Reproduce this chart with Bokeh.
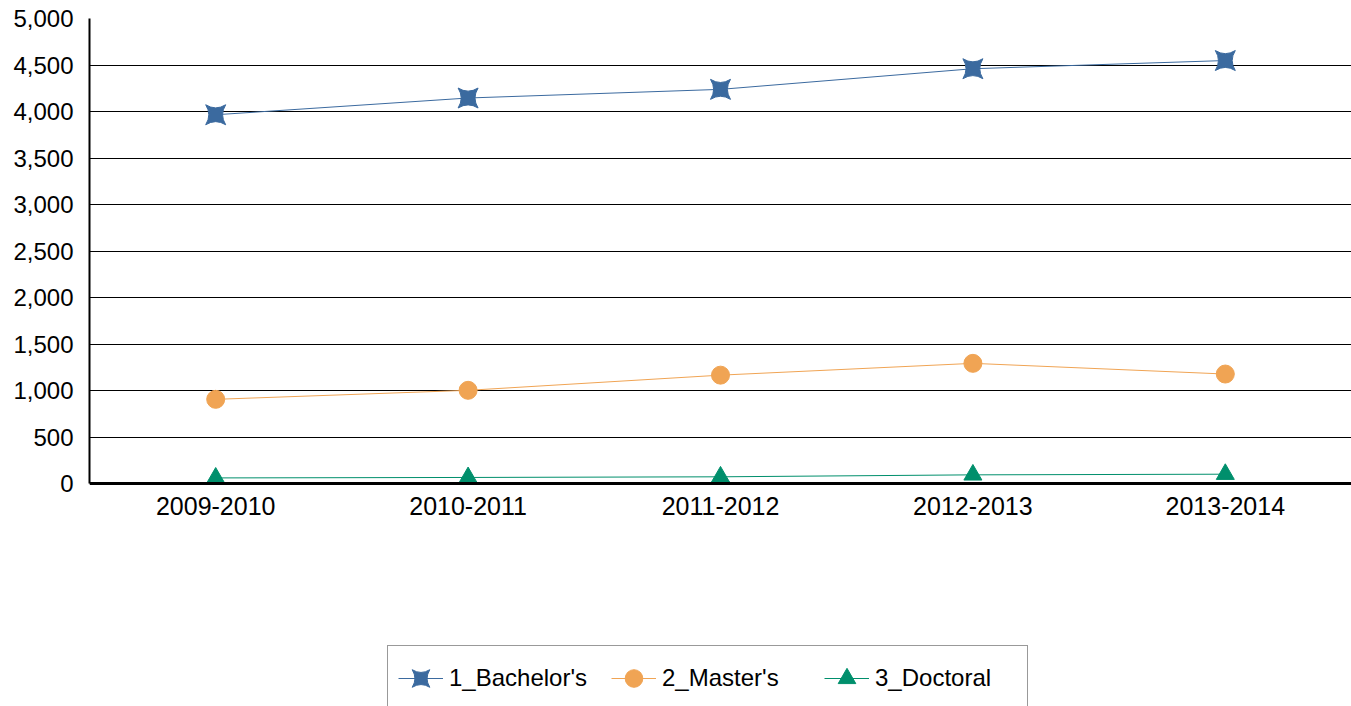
from bokeh.plotting import figure
from bokeh.models import FactorRange, Range1d, Legend, LegendItem, NumeralTickFormatter, FixedTicker
from bokeh.embed import file_html
from bokeh.resources import INLINE

years = ["2009-2010", "2010-2011", "2011-2012", "2012-2013", "2013-2014"]
bachelors = [3965, 4145, 4238, 4460, 4548]
masters = [905, 1002, 1165, 1292, 1177]
doctoral = [60, 65, 72, 93, 100]
series_names = ["1_Bachelor's", "2_Master's", "3_Doctoral"]
y_ticks = [0, 500, 1000, 1500, 2000, 2500, 3000, 3500, 4000, 4500, 5000]

colors = ["#3b6a9f", "#f0a454", "#008f6c"]
markers = ["square_pin", "circle", "triangle"]
FONT = "Liberation Sans"

# layout: value axis occupies 465 px (0..5000); the frame continues below it
# so the legend can sit inside the frame near the bottom of the page.
AXIS_PX = 465
FRAME_PX = 688
Y_MAX = 5000
y_min = -Y_MAX * (FRAME_PX - AXIS_PX) / AXIS_PX

p = figure(x_range=FactorRange(*years, range_padding=0), y_range=Range1d(y_min, Y_MAX),
           frame_width=1262, frame_height=FRAME_PX, output_backend="svg", toolbar_location=None,
           min_border_left=89, min_border_right=0, min_border_top=18, min_border_bottom=0)
p.outline_line_color = None
p.background_fill_color = "white"
p.border_fill_color = "white"

p.xgrid.grid_line_color = None
p.ygrid.grid_line_color = "black"
p.ygrid.grid_line_width = 1
p.ygrid.ticker = FixedTicker(ticks=y_ticks)

p.yaxis.ticker = FixedTicker(ticks=y_ticks)
p.yaxis.formatter = NumeralTickFormatter(format="0,0")
p.yaxis.bounds = (0, Y_MAX)
p.xaxis.fixed_location = 0
for ax in (p.xaxis[0], p.yaxis[0]):
    ax.major_tick_line_color = None
    ax.minor_tick_line_color = None
    ax.major_tick_out = 0
    ax.major_tick_in = 0
    ax.major_label_text_font = FONT
    ax.major_label_text_color = "black"
    ax.axis_line_color = "black"
p.yaxis.major_label_text_font_size = "24px"
p.xaxis.major_label_text_font_size = "25px"
p.yaxis.axis_line_width = 2
p.xaxis.axis_line_width = 3
p.yaxis.major_label_standoff = 16
p.xaxis.major_label_standoff = 13

items = []
for name, vals, c, m in zip(series_names, [bachelors, masters, doctoral], colors, markers):
    r1 = p.line(years, vals, line_color=c, line_width=1)
    sz = 20 if m == "square_pin" else 18
    r2 = p.scatter(years, vals, marker=m, size=sz, fill_color=c, line_color=c, line_width=1)
    items.append(LegendItem(label=name, renderers=[r1, r2]))

legend = Legend(items=items, orientation="horizontal", location=(298, -5),
                label_text_font=FONT, label_text_font_size="24px", label_text_color="black",
                glyph_width=45, glyph_height=44, label_standoff=6, label_width=142,
                spacing=20, padding=10, margin=0,
                border_line_color="#333333", border_line_width=1,
                background_fill_color="white", background_fill_alpha=1)
p.add_layout(legend, "center")

open("out.html", "w").write(file_html(p, INLINE))
